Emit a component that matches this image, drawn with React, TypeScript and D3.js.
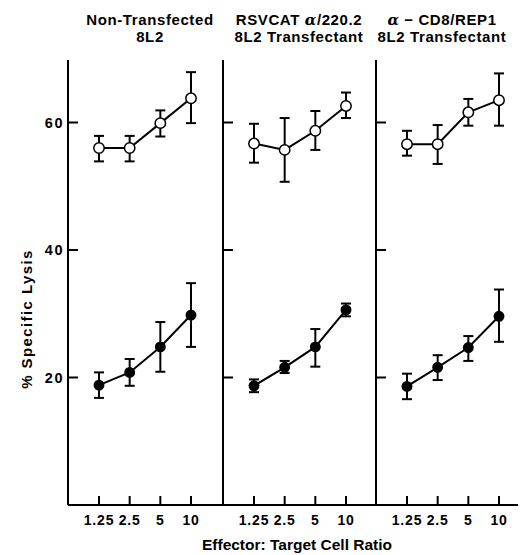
import React, { useEffect, useRef } from 'react';
import * as d3 from 'd3';

const ratios = ['1.25', '2.5', '5', '10'];
const yTicks = [20, 40, 60];

const panelTitles = [
  ['Non-Transfected', '8L2'],
  ['RSVCAT α/220.2', '8L2 Transfectant'],
  ['α − CD8/REP1', '8L2 Transfectant'],
];

// open circles (upper series): mean, low, high
const openMean = [
  [56, 56, 59.9, 63.8],
  [56.7, 55.7, 58.7, 62.6],
  [56.6, 56.6, 61.6, 63.5],
];
const openLow = [
  [53.9, 53.9, 57.8, 59.9],
  [53.7, 50.7, 55.7, 60.7],
  [54.8, 53.5, 59.5, 59.5],
];
const openHigh = [
  [57.9, 57.9, 61.9, 67.9],
  [59.8, 60.7, 61.8, 64.7],
  [58.7, 59.6, 63.7, 67.7],
];

// filled circles (lower series)
const filledMean = [
  [18.8, 20.8, 24.8, 29.8],
  [18.7, 21.6, 24.8, 30.6],
  [18.6, 21.6, 24.7, 29.6],
];
const filledLow = [
  [16.8, 18.7, 20.9, 24.8],
  [17.7, 20.7, 21.7, 29.6],
  [16.6, 19.6, 22.6, 25.6],
];
const filledHigh = [
  [20.8, 22.9, 28.7, 34.8],
  [19.7, 22.6, 27.6, 31.6],
  [20.6, 23.5, 26.5, 33.8],
];

const panelLefts = [68, 223, 376];
const titleCenters = [150, 299, 442];

export default function App() {
  const ref = useRef<SVGSVGElement>(null);

  useEffect(() => {
    const svg = d3.select(ref.current);
    svg.selectAll('*').remove();
    const width = 526;
    const height = 555;
    const top = 60;
    const bottom = 505;
    const right = 518;
    const font = 'Liberation Sans, Arial, Helvetica, sans-serif';

    const y = d3.scaleLinear().domain([0, 70]).range([bottom, bottom - 70 * 6.375]);

    svg.attr('width', width).attr('height', height);

    // bottom axis line
    svg.append('line')
      .attr('x1', panelLefts[0]).attr('x2', right)
      .attr('y1', bottom).attr('y2', bottom)
      .attr('stroke', '#000').attr('stroke-width', 2);

    panelLefts.forEach((left, p) => {
      const x = d3.scalePoint().domain(ratios).range([left + 31, left + 123]);
      const g = svg.append('g');

      // vertical axis / separator
      g.append('line')
        .attr('x1', left).attr('x2', left)
        .attr('y1', top).attr('y2', bottom)
        .attr('stroke', '#000').attr('stroke-width', 2);

      // y ticks pointing inward
      g.selectAll('.yt').data(yTicks).enter().append('line')
        .attr('x1', left).attr('x2', left + 10)
        .attr('y1', d => y(d)).attr('y2', d => y(d))
        .attr('stroke', '#000').attr('stroke-width', 2);

      if (p === 0) {
        g.selectAll('.yl').data(yTicks).enter().append('text')
          .attr('x', left - 4).attr('y', d => y(d) + 5)
          .attr('text-anchor', 'end')
          .style('font-family', font).style('font-size', '14.5px').style('font-weight', 'bold')
          .style('letter-spacing', '1.5px')
          .text(d => d);
      }

      // x ticks pointing up
      g.selectAll('.xt').data(ratios).enter().append('line')
        .attr('x1', d => x(d)!).attr('x2', d => x(d)!)
        .attr('y1', bottom).attr('y2', bottom - 9)
        .attr('stroke', '#000').attr('stroke-width', 2);

      g.selectAll('.xl').data(ratios).enter().append('text')
        .attr('x', d => x(d)!).attr('y', 525)
        .attr('text-anchor', 'middle')
        .style('font-family', font).style('font-size', '14px').style('font-weight', 'bold')
        .style('letter-spacing', '0.8px')
        .text(d => d);

      // titles
      panelTitles[p].forEach((t, i) => {
        const txt = g.append('text')
          .attr('x', titleCenters[p]).attr('y', 25 + i * 17)
          .attr('text-anchor', 'middle')
          .style('font-family', font).style('font-size', '15px').style('font-weight', 'bold')
          .style('letter-spacing', '0.6px');
        if (t.includes('α')) {
          const parts = t.split('α');
          txt.append('tspan').text(parts[0]);
          txt.append('tspan').style('font-style', 'italic').style('font-family', 'DejaVu Serif, serif').text('α');
          txt.append('tspan').text(parts[1]);
        } else {
          txt.text(t);
        }
      });

      const series = [
        { mean: openMean[p], low: openLow[p], high: openHigh[p], fill: '#fff', r: 5.2 },
        { mean: filledMean[p], low: filledLow[p], high: filledHigh[p], fill: '#000', r: 4.7 },
      ];

      series.forEach(s => {
        const pts = ratios.map((r, i) => ({ r, m: s.mean[i], lo: s.low[i], hi: s.high[i] }));

        // error bars
        const eb = g.append('g');
        eb.selectAll('.v').data(pts).enter().append('line')
          .attr('x1', d => x(d.r)!).attr('x2', d => x(d.r)!)
          .attr('y1', d => y(d.lo)).attr('y2', d => y(d.hi))
          .attr('stroke', '#000').attr('stroke-width', 2);
        eb.selectAll('.c1').data(pts).enter().append('line')
          .attr('x1', d => x(d.r)! - 5).attr('x2', d => x(d.r)! + 5)
          .attr('y1', d => y(d.lo)).attr('y2', d => y(d.lo))
          .attr('stroke', '#000').attr('stroke-width', 2);
        eb.selectAll('.c2').data(pts).enter().append('line')
          .attr('x1', d => x(d.r)! - 5).attr('x2', d => x(d.r)! + 5)
          .attr('y1', d => y(d.hi)).attr('y2', d => y(d.hi))
          .attr('stroke', '#000').attr('stroke-width', 2);

        const line = d3.line<typeof pts[0]>().x(d => x(d.r)!).y(d => y(d.m));
        g.append('path').attr('d', line(pts)!)
          .attr('fill', 'none').attr('stroke', '#000').attr('stroke-width', 2);

        g.selectAll('.pt').data(pts).enter().append('circle')
          .attr('cx', d => x(d.r)!).attr('cy', d => y(d.m))
          .attr('r', s.r)
          .attr('fill', s.fill).attr('stroke', '#000').attr('stroke-width', 1.5);
      });
    });

    // axis titles
    svg.append('text')
      .attr('transform', 'translate(32, 319) rotate(-90)')
      .attr('text-anchor', 'middle')
      .style('font-family', font).style('font-size', '15px').style('font-weight', 'bold')
      .style('letter-spacing', '1.4px')
      .text('% Specific Lysis');

    svg.append('text')
      .attr('x', 297).attr('y', 550)
      .attr('text-anchor', 'middle')
      .style('font-family', font).style('font-size', '15.5px').style('font-weight', 'bold')
      .text('Effector: Target Cell Ratio');
  }, []);

  return <svg ref={ref} style={{ position: 'absolute', left: 0, top: 0, background: '#fff' }} />;
}
